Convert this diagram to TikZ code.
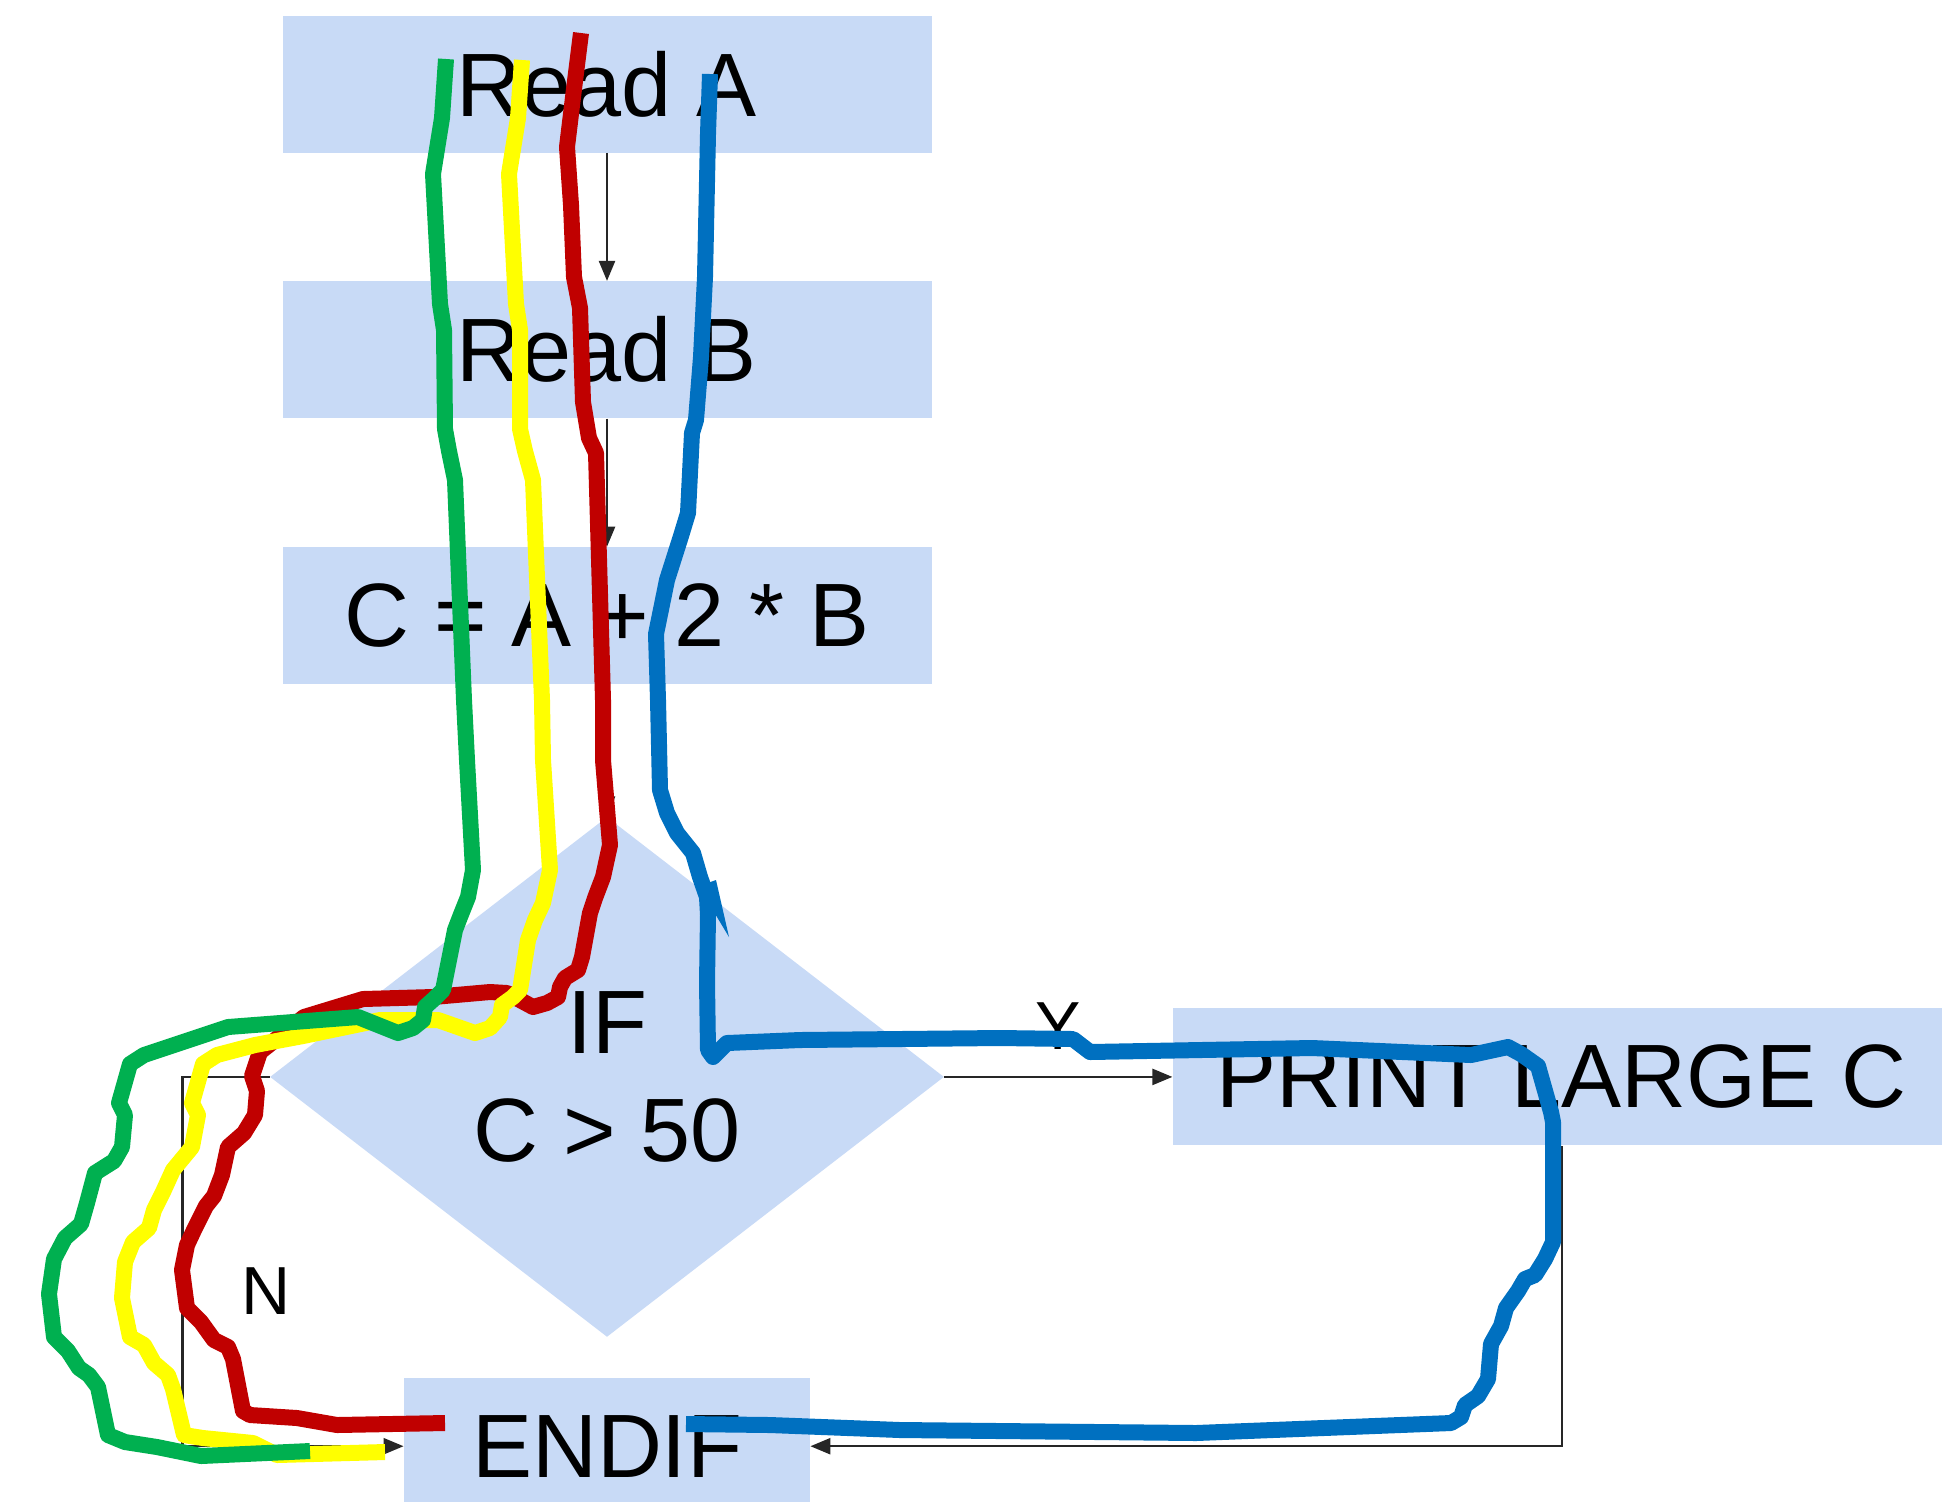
\documentclass[tikz,border=0pt]{standalone}
\usepackage{fontspec}
\setmainfont{Liberation Sans}
\usetikzlibrary{arrows.meta,positioning,shapes.geometric}
\definecolor{boxblue}{RGB}{200,218,246}
\definecolor{inkgreen}{RGB}{0,176,80}
\definecolor{inkyellow}{RGB}{255,255,0}
\definecolor{inkred}{RGB}{192,0,0}
\definecolor{inkblue}{RGB}{0,112,192}
\begin{document}
\begin{tikzpicture}[x=0.5pt,y=-0.5pt,
stepbox/.style={fill=boxblue,inner sep=0pt,minimum width=324.5pt,minimum height=68.5pt,font=\fontsize{45}{54}\selectfont},
decision/.style={diamond,fill=boxblue,inner sep=0pt,minimum width=337pt,minimum height=260pt,align=center,font=\fontsize{45}{54}\selectfont},
flow/.style={draw=black!85,line width=1.2pt,-{Triangle[length=10pt,width=8pt]}},
lbl/.style={font=\fontsize{34}{40}\selectfont,inner sep=0pt},
ink/.style={line width=8pt,line join=round}]
\useasboundingbox (0,0) rectangle (1942,1501);
\node[stepbox](reada) at (607,84){Read A};
\node[stepbox,below=64pt of reada](readb){Read B};
\node[stepbox,below=64pt of readb](calc){C = A + 2 * B};
\node[decision,below=66pt of calc](ifnode){IF\\C > 50};
\node[stepbox,minimum width=389pt,right=114pt of ifnode](print){PRINT LARGE C};
\node[stepbox,minimum width=203pt,below=20pt of ifnode](endif){ENDIF};
\node[lbl](nlabel) at (266,1291){N};
\draw[flow](reada)--(readb);\draw[flow](readb)--(calc);\draw[flow](calc)--(ifnode);
\draw[flow](ifnode.east)--node[lbl,above=13pt]{Y}(print.west);
\draw[flow](ifnode.west)--++(-87,0)|-(endif.west);
\draw[flow](print.south)|-(endif.east);
\draw[ink,inkred] plot coordinates {(581,33) (574,89) (567,147) (571,205) (574,277) (580,308) (583,402) (589,438) (596,453) (603,700) (603,760) (610,845) (603,877) (595,898) (590,913) (582,957) (578,970) (565,978) (560,987) (558,997) (547,1003) (533,1007) (507,993) (490,992) (433,997) (363,999) (304,1017) (260,1052) (252,1076) (257,1091) (255,1115) (244,1133) (228,1147) (222,1175) (214,1196) (206,1206) (194,1230) (187,1245) (182,1270) (187,1308) (201,1322) (214,1340) (228,1347) (233,1359) (243,1411) (250,1415) (297,1418) (337,1425) (445,1423)};
\draw[ink,inkyellow] plot coordinates {(522,60) (518,118) (509,174) (516,304) (520,330) (520,429) (525,451) (533,480) (542,700) (543,760) (550,870) (543,903) (535,920) (528,940) (520,990) (513,997) (502,1005) (500,1017) (490,1028) (475,1033) (438,1020) (380,1020) (303,1036) (255,1045) (217,1055) (203,1064) (192,1103) (198,1115) (192,1147) (173,1170) (163,1192) (154,1210) (149,1228) (133,1242) (125,1262) (122,1298) (130,1337) (144,1345) (154,1363) (168,1375) (173,1389) (184,1435) (203,1438) (253,1443) (277,1455) (385,1452)};
\draw[ink,inkgreen] plot coordinates {(446,59) (442,118) (433,174) (440,304) (444,330) (445,429) (449,451) (455,480) (464,700) (467,760) (473,870) (468,897) (460,917) (455,930) (443,990) (435,998) (425,1007) (423,1020) (413,1028) (398,1033) (358,1017) (228,1027) (144,1055) (130,1064) (119,1103) (125,1115) (122,1147) (114,1161) (95,1173) (87,1203) (81,1224) (65,1238) (54,1259) (49,1294) (54,1337) (68,1351) (79,1368) (89,1375) (98,1387) (108,1435) (125,1442) (157,1447) (201,1456) (310,1451)};
\draw[ink,inkblue] plot coordinates {(710,74) (708,134) (705,277) (701,357) (696,420) (692,433) (688,513) (681,536) (667,580) (656,634) (658,700) (660,790) (667,813) (677,833) (693,853) (700,877) (707,897) (708,915) (707,983) (708,1050) (713,1057) (727,1043) (800,1040) (1000,1038) (1073,1039) (1090,1052) (1312,1048) (1471,1055) (1508,1047) (1521,1054) (1538,1066) (1551,1112) (1553,1122) (1553,1242) (1545,1259) (1535,1275) (1525,1279) (1518,1291) (1506,1308) (1501,1326) (1491,1344) (1488,1379) (1478,1396) (1465,1405) (1461,1417) (1451,1423) (1196,1433) (900,1430) (770,1425) (686,1424)};
\fill[inkblue] (702,885)--(716,880)--(729,937)--(714,912)--cycle;
\end{tikzpicture}
\end{document}
